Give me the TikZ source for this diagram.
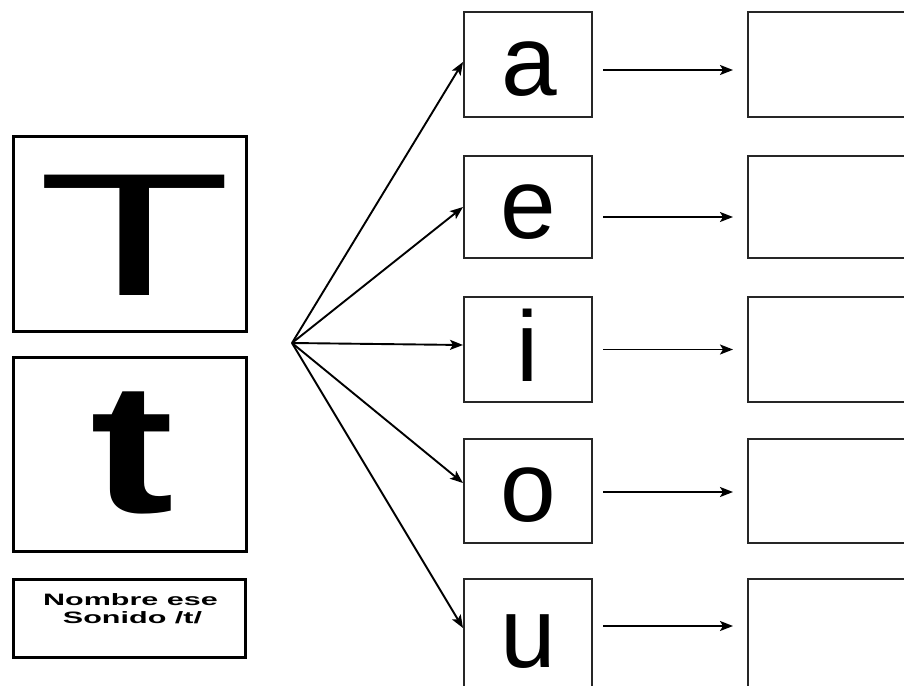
\documentclass[tikz,border=0pt]{standalone}
\usepackage{fontspec}
\usepackage{graphicx}
\setmainfont{Liberation Sans}
\usetikzlibrary{arrows.meta}
\tikzset{
  bigbox/.style={draw=black, line width=3pt, inner sep=0pt, minimum width=233pt},
  vbox/.style={draw=black!85, line width=2pt, inner sep=0pt, minimum width=128pt},
  rbox/.style={draw=black!85, line width=2pt, inner sep=0pt, minimum width=252pt},
  vletter/.style={anchor=base, inner sep=0pt, text depth=0pt, font=\fontsize{100}{100}\selectfont},
  arr/.style={draw=black, line width=1.9pt, -{Stealth[length=13pt,width=10pt,inset=3pt]}},
}
\begin{document}
\begin{tikzpicture}[x=1pt,y=-1pt]
\useasboundingbox (0,0) rectangle (904,685);
\clip (0,0) rectangle (904,685);
\fill[white] (0,0) rectangle (904,685);
% left boxes
\node[bigbox, minimum height=195pt] (Tbox) at (130,234) {};
\node[bigbox, minimum height=194pt] (tbox) at (130,454.5) {};
\node[bigbox, minimum width=232pt, minimum height=78pt] (nbox) at (129.5,618.5) {};
\node[anchor=base, inner sep=0pt] (Tl) at (135,295) {\scalebox{1.82}[1]{\fontsize{175}{175}\selectfont T}};
\node[anchor=base, inner sep=0pt] (tl) at (132.5,512) {\scalebox{1.36}[1]{\fontsize{185}{185}\selectfont\bfseries t}};
\node[anchor=base, inner sep=0pt] (n1) at (130.5,605) {\scalebox{1.85}[1]{\fontsize{16.5}{16.5}\selectfont\bfseries Nombre ese}};
\node[anchor=base, inner sep=0pt] (n2) at (132.5,623) {\scalebox{1.85}[1]{\fontsize{16.5}{16.5}\selectfont\bfseries Sonido /t/}};
% vowel boxes
\node[vbox, minimum height=105pt] (a) at (528,64.5) {};
\node[vbox, minimum height=102pt] (e) at (528,207) {};
\node[vbox, minimum height=105pt] (i) at (528,349.5) {};
\node[vbox, minimum height=104pt] (o) at (528,491) {};
\node[vbox, minimum height=122pt] (u) at (528,640) {};
\node[vletter] (al) at (529,95) {a};
\node[vletter] (el) at (528,238) {e};
\node[vletter] (il) at (528,381) {i};
\node[vletter] (ol) at (528,521) {o};
\node[vletter] (ul) at (528,667) {u};
% right boxes
\node[rbox, minimum height=105pt] (ra) at (874,64.5) {};
\node[rbox, minimum height=102pt] (re) at (874,207) {};
\node[rbox, minimum height=105pt] (ri) at (874,349.5) {};
\node[rbox, minimum height=104pt] (ro) at (874,491) {};
\node[rbox, minimum height=122pt] (ru) at (874,640) {};
% hub and fan arrows
\coordinate (hub) at (292,343);
\draw[arr] (hub) -- ([shift={(0,-2.5)}]a.west);
\draw[arr] (hub) -- (e.west);
\draw[arr] (hub) -- ([shift={(0,-4.5)}]i.west);
\draw[arr] (hub) -- ([shift={(0,-8)}]o.west);
\draw[arr] (hub) -- ([shift={(0,-12)}]u.west);
% horizontal arrows
\draw[arr] ([shift={(10,5.5)}]a.east) -- ([shift={(-14,5.5)}]ra.west);
\draw[arr] ([shift={(10,10)}]e.east) -- ([shift={(-14,10)}]re.west);
\draw[arr] ([shift={(10,0)}]i.east) -- ([shift={(-14,0)}]ri.west);
\draw[arr] ([shift={(10,1)}]o.east) -- ([shift={(-14,1)}]ro.west);
\draw[arr] ([shift={(10,-14)}]u.east) -- ([shift={(-14,-14)}]ru.west);
\end{tikzpicture}
\end{document}
